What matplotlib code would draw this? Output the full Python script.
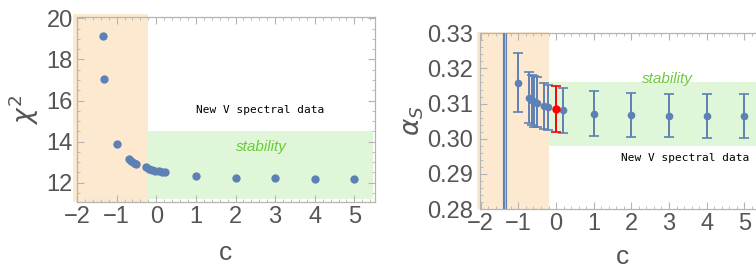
#%%
import matplotlib
matplotlib.use("Agg")
import matplotlib.pyplot as plt
import numpy as np
from matplotlib.ticker import MultipleLocator

#DATA#
c_chi = [-1.35, -1.31, -1.0, -0.70, -0.63, -0.56, -0.50, -0.27, -0.19, -0.10, -0.02, 0.07, 0.15, 0.22,
         1, 2, 3, 4, 5]
chi2 = [19.15, 17.03, 13.87, 13.15, 13.06, 12.97, 12.91, 12.75, 12.68, 12.63, 12.58, 12.55, 12.52, 12.51,
        12.34, 12.24, 12.21, 12.18, 12.18]

c_alpha = [-1.35, -1.0, -0.73, -0.65, -0.58, -0.51, -0.32, -0.21, 0.19, 1, 2, 3, 4, 5]
alpha_s = [0.36, 0.3158, 0.3117, 0.3110, 0.3105, 0.3102, 0.3094, 0.3089, 0.3081, 0.3071, 0.3067, 0.3066, 0.3065, 0.3064]
alpha_hi = [0.50, 0.3243, 0.3189, 0.3182, 0.3178, 0.3176, 0.3158, 0.3152, 0.3144, 0.3135, 0.3130, 0.3128, 0.3127, 0.3126]
alpha_lo = [0.20, 0.3075, 0.3044, 0.3039, 0.3034, 0.3032, 0.3027, 0.3025, 0.3016, 0.3007, 0.3005, 0.3004, 0.3003, 0.3003]

c_best = [0.0]
alpha_best = [0.3084]
alpha_best_hi = [0.3150]
alpha_best_lo = [0.3019]

# shaded regions
unstable_c = [-2.1, -0.2]
stable_c_chi = [-0.2, 5.48]
stable_chi = [11.2, 14.52]
stable_c_alpha = [-0.18, 5.6]
stable_alpha = [0.2980, 0.3162]
#END OF DATA#

#STYLE#
blue = '#5e81b5'
red = '#ff0000'
orange_fill = '#fde9cf'
green_fill = '#e0f6d8'
frame_col = '#b4b4b4'
label_col = '#555555'
plt.rcParams['font.family'] = ['Liberation Sans', 'DejaVu Sans']

def style_frame(ax, xminor, yminor):
    for s in ax.spines.values():
        s.set_color(frame_col)
        s.set_linewidth(0.9)
    ax.xaxis.set_major_locator(MultipleLocator(1))
    ax.xaxis.set_minor_locator(MultipleLocator(xminor))
    ax.yaxis.set_minor_locator(MultipleLocator(yminor))
    ax.tick_params(which='both', direction='in', top=True, right=True, color=frame_col,
                   labelcolor=label_col, labelsize=17, pad=3)
    ax.tick_params(which='major', length=5, width=0.8)
    ax.tick_params(which='minor', length=2.5, width=0.6)
    ax.set_xticks([-2, -1, 0, 1, 2, 3, 4, 5])
    ax.set_xticklabels(['\u22122', '\u22121', '0', '1', '2', '3', '4', '5'])
#END OF STYLE#

fig = plt.figure(figsize=(7.56, 2.7), dpi=100)

#LEFT PANEL#
ax1 = fig.add_axes([77/756, 1 - 202.3/270, 298/756, 185.6/270])
ax1.set_xlim(-1.98, 5.52)
ax1.set_ylim(11.05, 20.08)
ax1.fill_between(unstable_c, 11.05, 20.2, color=orange_fill, lw=0, zorder=0, clip_on=False)
ax1.fill_between(stable_c_chi, stable_chi[0], stable_chi[1], color=green_fill, lw=0, zorder=0)
ax1.plot(c_chi, chi2, 'o', color=blue, ms=6, mec='none', zorder=3)
ax1.text(2.63, 15.54, 'New V spectral data', family='DejaVu Sans Mono', fontsize=8,
         ha='center', va='center')
ax1.text(2.65, 13.75, 'stability', color='#6acb3a', fontsize=11, style='italic',
         ha='center', va='center')
ax1.set_yticks([12, 14, 16, 18, 20])
style_frame(ax1, 0.2, 0.5)
ax1.set_xlabel('c', fontsize=19, color=label_col, labelpad=9)
ax1.set_ylabel(r'$\chi^2$', fontsize=19, color=label_col, labelpad=4)

#RIGHT PANEL#
ax2 = fig.add_axes([480/756, 1 - 209/270, 285/756, 175.7/270])
ax2.set_xlim(-2.02, 5.55)
ax2.set_ylim(0.28, 0.33)
ax2.fill_between(unstable_c, 0.28, 0.3304, color=orange_fill, lw=0, zorder=0, clip_on=False)
ax2.fill_between(stable_c_alpha, stable_alpha[0], stable_alpha[1], color=green_fill, lw=0, zorder=0)
a = np.array(alpha_s)
ax2.errorbar(c_alpha, a, yerr=[a - np.array(alpha_lo), np.array(alpha_hi) - a], fmt='o',
             color=blue, ms=5.5, mec='none', elinewidth=1.4, capsize=3.5, capthick=1.2, zorder=3)
# the first point's error bar covers the whole range: draw it as a thick line
ax2.vlines(c_alpha[0], alpha_lo[0], alpha_hi[0], color=blue, lw=3, zorder=3)
ax2.vlines(c_alpha[0], alpha_lo[0], alpha_hi[0], color='#a9bcdb', lw=0.8, zorder=3)
b = np.array(alpha_best)
ax2.errorbar(c_best, b, yerr=[b - np.array(alpha_best_lo), np.array(alpha_best_hi) - b], fmt='o',
             color=red, ms=6, mec='none', elinewidth=1.4, capsize=3.5, capthick=1.2, zorder=4)
ax2.text(3.44, 0.2946, 'New V spectral data', family='DejaVu Sans Mono', fontsize=8,
         ha='center', va='center')
ax2.text(2.96, 0.3170, 'stability', color='#6acb3a', fontsize=11, style='italic',
         ha='center', va='center')
ax2.set_yticks([0.28, 0.29, 0.30, 0.31, 0.32, 0.33])
ax2.set_yticklabels(['0.28', '0.29', '0.30', '0.31', '0.32', '0.33'])
style_frame(ax2, 0.2, 0.002)
ax2.tick_params(axis='y', which='both', pad=5)
ax2.set_xlabel('c', fontsize=19, color=label_col, labelpad=7)
ax2.set_ylabel(r'$\alpha_S$', fontsize=19, color=label_col, labelpad=1)

fig.savefig('out.png', dpi=100)
# %%
